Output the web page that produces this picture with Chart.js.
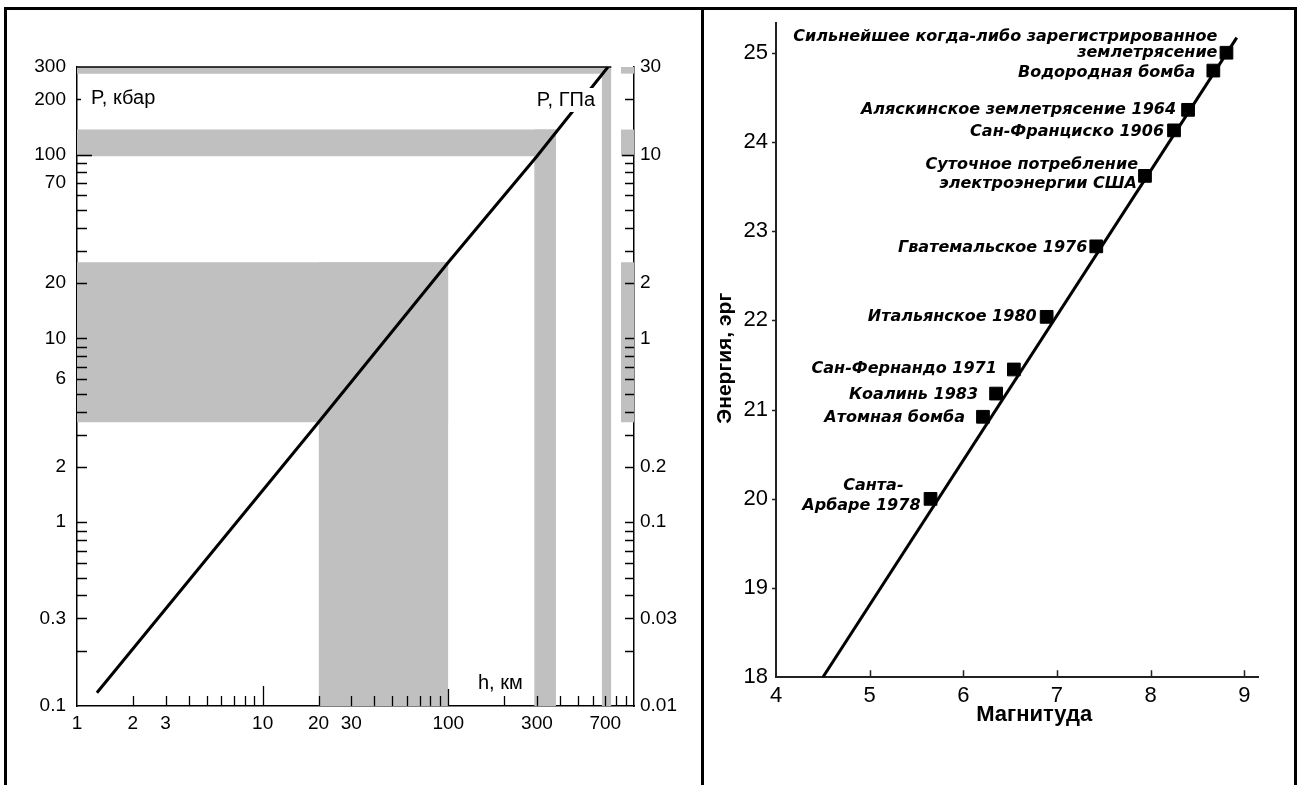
<!DOCTYPE html>
<html lang="ru">
<head>
  <meta charset="UTF-8" />
  <title>Давление в недрах и энергия землетрясений</title>
  <style>
    * {
      margin: 0;
      padding: 0;
    }

    html,
    body {
      width: 1302px;
      height: 785px;
      overflow: hidden;
      background: #fff;
    }

    .chartBox {
      position: absolute;
      top: 0;
      height: 785px;
    }

    #leftBox {
      left: 0;
      width: 700px;
    }

    #rightBox {
      left: 704px;
      width: 590px;
    }

    .frame {
      position: absolute;
      left: 4px;
      top: 7px;
      width: 1293px;
      height: 800px;
      border: 3px solid #000;
      box-sizing: border-box;
    }

    .divider {
      position: absolute;
      left: 701px;
      top: 7px;
      width: 3px;
      height: 800px;
      background: #000;
    }
  </style>
</head>

<body>
  <div class="chartBox" id="leftBox"><canvas id="pressureChart"></canvas></div>
  <div class="chartBox" id="rightBox"><canvas id="energyChart"></canvas></div>
  <div class="frame"></div>
  <div class="divider"></div>

  <script src="https://cdn.jsdelivr.net/npm/chart.js@4.4.1/dist/chart.umd.min.js"></script>
  <script>
    const FONT = '"Liberation Sans", Arial, sans-serif';

    // ---- left: pressure vs depth ----
    const depthKm = [1.28, 20, 100, 300, 724];
    const pressureKbar = [0.118, 3.5, 26, 98, 300];

    // grey zones (depth km from/to, pressure kbar from/to)
    const zoneDepthFrom = [1, 1, 1, 20, 290, 670, 850, 850, 850];
    const zoneDepthTo = [755, 380, 100, 100, 380, 755, 1000, 1000, 1000];
    const zonePFrom = [276, 98, 3.5, 0.1, 0.1, 0.1, 276, 98, 3.5];
    const zonePTo = [300, 137, 26, 26, 137, 300, 300, 137, 26];

    const depthTicks = [1, 2, 3, 4, 5, 6, 7, 8, 9, 10, 20, 30, 40, 50, 60, 70, 80, 90,
      100, 200, 300, 400, 500, 600, 700, 800, 900, 1000];
    const depthLabels = [1, 2, 3, 10, 20, 30, 100, 300, 700];
    const kbarTicks = [0.1, 0.2, 0.3, 0.4, 0.5, 0.6, 0.7, 0.8, 0.9, 1, 2, 3, 4, 5, 6, 7, 8, 9,
      10, 20, 30, 40, 50, 60, 70, 80, 90, 100, 200, 300];
    const kbarLabels = [0.1, 0.3, 1, 2, 6, 10, 20, 70, 100, 200, 300];
    const gpaTicks = [0.01, 0.02, 0.03, 0.04, 0.05, 0.06, 0.07, 0.08, 0.09, 0.1, 0.2, 0.3, 0.4,
      0.5, 0.6, 0.7, 0.8, 0.9, 1, 2, 3, 4, 5, 6, 7, 8, 9, 10, 20, 30];
    const gpaLabels = [0.01, 0.03, 0.1, 0.2, 1, 2, 10, 30];

    // ---- right: energy vs magnitude ----
    const eventNames = [
      ['Сильнейшее когда-либо зарегистрированное', 'землетрясение'],
      ['Водородная бомба'],
      ['Аляскинское землетрясение 1964'],
      ['Сан-Франциско 1906'],
      ['Суточное потребление', 'электроэнергии США'],
      ['Гватемальское 1976'],
      ['Итальянское 1980'],
      ['Сан-Фернандо 1971'],
      ['Коалинь 1983'],
      ['Атомная бомба'],
      ['Санта-', 'Арбаре 1978'],
    ];
    const magnitude = [8.81, 8.67, 8.40, 8.25, 7.94, 7.42, 6.89, 6.54, 6.35, 6.21, 5.65];
    const energyLog = [25.0, 24.8, 24.36, 24.13, 23.62, 22.83, 22.04, 21.45, 21.18, 20.92, 20.0];
    const fitMagnitude = [4.5, 8.92];
    const fitEnergy = [18, 25.17];
    const magTicks = [4, 5, 6, 7, 8, 9];
    const energyTicks = [18, 19, 20, 21, 22, 23, 24, 25];

    // label placement: right edge / middle of each text line, px from marker
    const labelShift = [
      [[-9, -16], [-9, 0]],
      [[-18, 2]],
      [[-12, 0]],
      [[-10, 1]],
      [[-7, -11], [-8, 8]],
      [[-9, 1]],
      [[-10, 0]],
      [[-17, -1]],
      [[-18, 1]],
      [[-18, 1]],
      [[-27, -13], [-10, 7]],
    ];

    const noFrills = {
      animation: false,
      responsive: true,
      maintainAspectRatio: false,
      events: [],
      plugins: { legend: { display: false }, tooltip: { enabled: false } },
    };

    function tickSetter(list) {
      return function (scale) {
        scale.ticks = list.map(v => ({ value: v }));
      };
    }

    // ---------- left chart ----------
    const zoneSets = zoneDepthFrom.map((h0, i) => ({
      data: [{ x: h0, y: zonePTo[i] }, { x: zoneDepthTo[i], y: zonePTo[i] }],
      fill: { value: zonePFrom[i] },
      backgroundColor: '#c0c0c0',
      borderWidth: 0,
      pointRadius: 0,
      order: 2,
    }));

    const profileSet = {
      data: depthKm.map((h, i) => ({ x: h, y: pressureKbar[i] })),
      borderColor: '#000',
      borderWidth: 3,
      pointRadius: 0,
      fill: false,
      order: 0,
    };

    const leftDecor = {
      id: 'leftDecor',
      afterDraw(chart) {
        const { ctx, chartArea: a, scales } = chart;
        const { x, y, y2 } = scales;
        ctx.save();
        ctx.strokeStyle = '#000';
        ctx.lineWidth = 1.3;
        ctx.beginPath();
        kbarTicks.forEach(v => {
          if (v <= 0.1 || v >= 300) return;
          const p = Math.round(y.getPixelForValue(v)) + 0.5;
          const len = v === 100 ? 15 : (v === 200 ? 4 : 10);
          ctx.moveTo(a.left, p);
          ctx.lineTo(a.left + len, p);
        });
        gpaTicks.forEach(v => {
          if (v <= 0.01 || v >= 30) return;
          const p = Math.round(y2.getPixelForValue(v)) + 0.5;
          const len = v === 10 ? 12 : 9;
          ctx.moveTo(a.right, p);
          ctx.lineTo(a.right - len, p);
        });
        depthTicks.forEach(v => {
          if (v <= 1 || v >= 1000) return;
          const p = Math.round(x.getPixelForValue(v)) + 0.5;
          const len = v === 10 ? 20 : (v === 100 ? 17 : 10);
          ctx.moveTo(p, a.bottom);
          ctx.lineTo(p, a.bottom - len);
        });
        ctx.stroke();

        // top edge of the frame
        ctx.lineWidth = 1.5;
        ctx.beginPath();
        ctx.moveTo(a.left, a.top);
        ctx.lineTo(x.getPixelForValue(755), a.top);
        ctx.stroke();

        ctx.font = '20px ' + FONT;
        ctx.fillStyle = '#000';
        ctx.textBaseline = 'middle';
        ctx.textAlign = 'left';
        ctx.fillText('P, кбар', a.left + 14, a.top + 31);
        ctx.fillText('h, км', a.left + 401, a.bottom - 23);

        ctx.textAlign = 'right';
        const w = ctx.measureText('P, ГПа').width;
        ctx.fillStyle = '#fff';
        ctx.fillRect(a.right - 39 - w - 3, a.top + 21, w + 6, 24);
        ctx.fillStyle = '#000';
        ctx.fillText('P, ГПа', a.right - 39, a.top + 33);
        ctx.restore();
      },
    };

    const logAxis = (min, max, ticks, labels, extra) => Object.assign({
      type: 'logarithmic',
      min: min,
      max: max,
      afterBuildTicks: tickSetter(ticks),
      grid: { display: false, drawTicks: false },
      border: { display: true, color: '#000', width: 1.5 },
      ticks: {
        autoSkip: false,
        maxRotation: 0,
        color: '#000',
        font: { family: FONT, size: 19 },
        callback: v => (labels.includes(v) ? String(v) : ''),
      },
    }, extra);

    const leftX = logAxis(1, 1000, depthTicks, depthLabels, { position: 'bottom', afterFit: s => { s.height = 79; } });
    leftX.ticks.padding = 6;
    const leftY = logAxis(0.1, 300, kbarTicks, kbarLabels, { position: 'left', afterFit: s => { s.width = 77; } });
    leftY.ticks.padding = 11;
    const leftY2 = logAxis(0.01, 30, gpaTicks, gpaLabels, { position: 'right', afterFit: s => { s.width = 66; } });
    leftY2.ticks.padding = 6;

    new Chart(document.getElementById('pressureChart').getContext('2d'), {
      type: 'line',
      data: { datasets: [profileSet].concat(zoneSets) },
      options: Object.assign({}, noFrills, {
        layout: { padding: { top: 67, left: 0, right: 0, bottom: 0 } },
        scales: { x: leftX, y: leftY, y2: leftY2 },
      }),
      plugins: [leftDecor],
    });

    // ---------- right chart ----------
    const rightDecor = {
      id: 'rightDecor',
      afterDraw(chart) {
        const { ctx, chartArea: a, scales: { x, y } } = chart;
        ctx.save();
        ctx.strokeStyle = '#222';
        ctx.lineWidth = 1.5;
        ctx.beginPath();
        energyTicks.forEach(v => {
          if (v === 18) return;
          const p = Math.round(y.getPixelForValue(v)) + 0.5;
          ctx.moveTo(a.left, p);
          ctx.lineTo(a.left - 4, p);
        });
        magTicks.forEach(v => {
          if (v === 4) return;
          const p = Math.round(x.getPixelForValue(v)) + 0.5;
          ctx.moveTo(p, a.bottom);
          ctx.lineTo(p, a.bottom - 7);
        });
        ctx.stroke();

        // event captions
        ctx.fillStyle = '#000';
        ctx.font = 'italic bold 16px "DejaVu Sans", ' + FONT;
        ctx.textAlign = 'right';
        ctx.textBaseline = 'middle';
        eventNames.forEach((lines, i) => {
          const px = x.getPixelForValue(magnitude[i]);
          const py = y.getPixelForValue(energyLog[i]);
          lines.forEach((t, j) => {
            const [dx, dy] = labelShift[i][j];
            ctx.fillText(t, px + dx, py + dy);
          });
        });

        // axis titles
        ctx.font = 'bold 22px ' + FONT;
        ctx.textAlign = 'center';
        ctx.fillText('Магнитуда', (a.left + a.right) / 2 + 17, a.bottom + 38);
        ctx.translate(a.left - 51, (a.top + a.bottom) / 2 + 8);
        ctx.rotate(-Math.PI / 2);
        ctx.font = 'bold 21px ' + FONT;
        ctx.fillText('Энергия, эрг', 0, 0);
        ctx.restore();
      },
    };

    new Chart(document.getElementById('energyChart').getContext('2d'), {
      type: 'line',
      data: {
        datasets: [
          {
            data: magnitude.map((m, i) => ({ x: m, y: energyLog[i] })),
            showLine: false,
            pointStyle: 'rect',
            pointRadius: 9,
            pointBackgroundColor: '#000',
            pointBorderColor: '#000',
            pointBorderWidth: 1,
            order: 0,
          },
          {
            data: fitMagnitude.map((m, i) => ({ x: m, y: fitEnergy[i] })),
            borderColor: '#000',
            borderWidth: 3,
            pointRadius: 0,
            fill: false,
            order: 1,
          },
        ],
      },
      options: Object.assign({}, noFrills, {
        layout: { padding: { top: 23.3, left: 0, right: 35.7, bottom: 0 } },
        scales: {
          x: {
            type: 'linear',
            min: 4,
            max: 9.15,
            afterBuildTicks: tickSetter(magTicks),
            afterFit: s => { s.height = 107.7; },
            grid: { display: false, drawTicks: false },
            border: { display: true, color: '#222', width: 2 },
            ticks: { autoSkip: false, maxRotation: 0, padding: 5, color: '#000', font: { family: FONT, size: 22 } },
          },
          y: {
            type: 'linear',
            min: 18,
            max: 25.33,
            afterBuildTicks: tickSetter(energyTicks),
            afterFit: s => { s.width = 72; },
            grid: { display: false, drawTicks: false },
            border: { display: true, color: '#222', width: 2 },
            ticks: { autoSkip: false, padding: 8, color: '#000', font: { family: FONT, size: 22 } },
          },
        },
      }),
      plugins: [rightDecor],
    });
  </script>
</body>

</html>
